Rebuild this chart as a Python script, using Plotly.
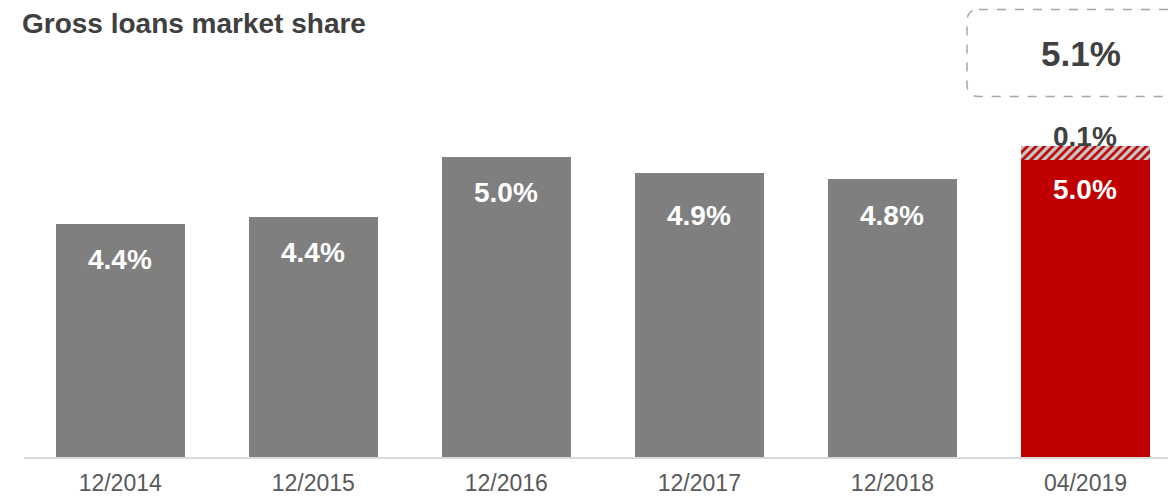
import plotly.graph_objects as go

# ---- data ----
categories = ["12/2014", "12/2015", "12/2016", "12/2017", "12/2018", "04/2019"]
market_share = [4.37, 4.44, 5.04, 4.88, 4.82, 5.01]
increment = [0, 0, 0, 0, 0, 0.14]
bar_labels = ["4.4%", "4.4%", "5.0%", "4.9%", "4.8%", "5.0%"]
increment_label = "0.1%"
total_label = "5.1%"
title_text = "Gross loans market share"

# ---- style ----
GRAY = "#7f7f7f"
RED = "#c00000"
DARK = "#404040"
FONT = "Arial, Liberation Sans, sans-serif"
label_offsets_px = [35, 35.5, 35, 42, 36, 29.5]

W, H = 1168, 497
ML, MR, MT, MB = 24, 0, 0, 40
PW, PH = W - ML - MR, H - MT - MB

bar_colors = [GRAY] * (len(categories) - 1) + [RED]

fig = go.Figure()
fig.add_trace(go.Bar(
    x=list(range(len(categories))), y=market_share,
    marker=dict(color=bar_colors, line=dict(width=0)),
    hoverinfo="skip",
))
fig.add_trace(go.Bar(
    x=list(range(len(categories))), y=increment,
    marker=dict(color=RED, line=dict(width=0),
                pattern=dict(shape="/", bgcolor=RED, fgcolor="#c8c8c8",
                             size=6, solidity=0.55, fillmode="replace")),
    hoverinfo="skip",
))

annotations = []
for i, (v, lab) in enumerate(zip(market_share, bar_labels)):
    annotations.append(dict(
        x=i, y=v, xref="x", yref="y", text=lab, showarrow=False,
        yanchor="middle", xanchor="center", yshift=-label_offsets_px[i],
        font=dict(family=FONT, size=28, color="white", weight="bold"),
    ))
last = len(categories) - 1
annotations.append(dict(
    x=last, y=market_share[last] + increment[last], xref="x", yref="y",
    text=increment_label, showarrow=False, yanchor="middle", xanchor="center",
    yshift=10, font=dict(family=FONT, size=28, color=DARK, weight="bold"),
))


def px_to_paper(px, py):
    return (px - ML) / PW, (MT + PH - py) / PH


# title
tx, ty = px_to_paper(20, 23.5)
annotations.append(dict(
    x=tx, y=ty, xref="paper", yref="paper", text=title_text, showarrow=False,
    xanchor="left", yanchor="middle",
    font=dict(family=FONT, size=28, color=DARK, weight="bold"),
))

# total value in dashed box
bx, by = px_to_paper(1081, 53)
annotations.append(dict(
    x=bx, y=by, xref="paper", yref="paper", text=total_label, showarrow=False,
    xanchor="center", yanchor="middle",
    font=dict(family=FONT, size=35, color=DARK, weight="bold"),
))

# rounded dashed box (right side extends past the page)
L, T, R, B, r = 967, 9.5, 1185, 96.5, 12


def P(px, py):
    x, y = px_to_paper(px, py)
    return f"{x:.5f},{y:.5f}"


path = (f"M {P(L + r, T)} L {P(R - r, T)} Q {P(R, T)} {P(R, T + r)} "
        f"L {P(R, B - r)} Q {P(R, B)} {P(R - r, B)} "
        f"L {P(L + r, B)} Q {P(L, B)} {P(L, B - r)} "
        f"L {P(L, T + r)} Q {P(L, T)} {P(L + r, T)} Z")
shapes = [dict(type="path", xref="paper", yref="paper", path=path,
               line=dict(color="#a6a6a6", width=1.5, dash="dash"),
               fillcolor="rgba(0,0,0,0)")]

pitch = 193.05
x0 = -(120.2 - ML) / pitch
x1 = x0 + PW / pitch

fig.update_layout(
    width=W, height=H,
    margin=dict(l=ML, r=MR, t=MT, b=MB),
    barmode="stack", bargap=0.332,
    showlegend=False,
    plot_bgcolor="white", paper_bgcolor="white",
    annotations=annotations, shapes=shapes,
    xaxis=dict(
        range=[x0, x1], tickmode="array",
        tickvals=list(range(len(categories))), ticktext=categories,
        showgrid=False, zeroline=False, showline=True,
        linecolor="#d9d9d9", linewidth=2, ticks="",
        ticklabelstandoff=4, automargin=False,
        tickfont=dict(family=FONT, size=23, color="#595959"),
        fixedrange=True,
    ),
    yaxis=dict(
        range=[2.04, 2.04 + PH / 100.0], visible=False,
        showgrid=False, zeroline=False, fixedrange=True,
        automargin=False,
    ),
)

fig.write_html("out.html", config={"displayModeBar": False})
